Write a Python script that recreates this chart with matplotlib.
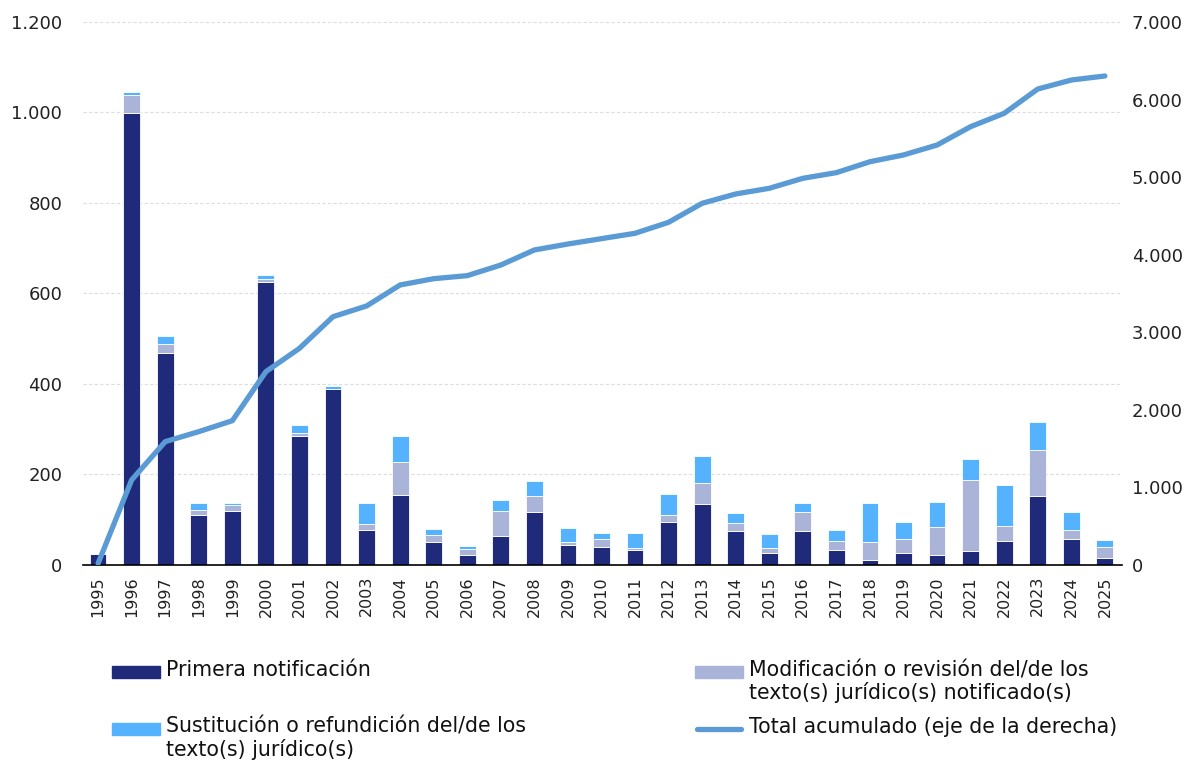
import matplotlib
matplotlib.use("Agg")
import matplotlib.pyplot as plt
from matplotlib.patches import Rectangle
from matplotlib.lines import Line2D
from matplotlib.ticker import FuncFormatter

# Data
years = [str(y) for y in range(1995, 2026)]
primera = [25, 998, 469, 110, 119, 626, 284, 388, 77, 155, 51, 21, 63, 118, 45, 40,
           32, 96, 135, 74, 27, 76, 34, 12, 27, 21, 31, 54, 152, 58, 15]
modificacion = [0, 40, 19, 11, 14, 6, 8, 2, 13, 73, 15, 15, 57, 35, 6, 18,
                6, 15, 46, 19, 11, 40, 19, 38, 30, 63, 157, 33, 102, 19, 25]
sustitucion = [0, 7, 17, 15, 4, 8, 17, 6, 48, 57, 14, 5, 24, 33, 31, 12,
               33, 46, 59, 21, 31, 20, 24, 87, 37, 56, 47, 90, 63, 41, 15]
total_acumulado = [20, 1096, 1590, 1719, 1860, 2492, 2793, 3201, 3339, 3610, 3691, 3730,
                   3867, 4061, 4138, 4207, 4276, 4418, 4663, 4783, 4856, 4985, 5058,
                   5199, 5286, 5414, 5651, 5823, 6136, 6252, 6304]

labels = ["Primera notificación",
          "Modificación o revisión del/de los\ntexto(s) jurídico(s) notificado(s)",
          "Sustitución o refundición del/de los\ntexto(s) jurídico(s)",
          "Total acumulado (eje de la derecha)"]

c_primera = "#1F2A7B"
c_mod = "#A9B4D8"
c_sust = "#55B2FF"
c_line = "#5B9BD5"

plt.rcParams['font.family'] = ['DejaVu Sans']

fig = plt.figure(figsize=(11.94, 7.64), dpi=100)
ax = fig.add_axes([0.0695, 0.2605, 0.8702, 0.7107])

x = list(range(len(years)))
bottom2 = [a + b for a, b in zip(primera, modificacion)]
ax.bar(x, primera, width=0.5, color=c_primera, edgecolor="white", linewidth=0.6, zorder=2)
ax.bar(x, modificacion, width=0.5, bottom=primera, color=c_mod, edgecolor="white", linewidth=0.6, zorder=2)
ax.bar(x, sustitucion, width=0.5, bottom=bottom2, color=c_sust, edgecolor="white", linewidth=0.6, zorder=2)

ax.set_xlim(-0.45, len(years) - 0.49)
ax.set_ylim(0, 1200)
ax.set_yticks(range(0, 1201, 200))
thousands = FuncFormatter(lambda v, p: f"{int(v):,}".replace(",", "."))
ax.yaxis.set_major_formatter(thousands)
ax.set_xticks(x)
ax.set_xticklabels(years, rotation=90, fontsize=11.5, color="#222222")
ax.tick_params(axis="y", labelsize=13, length=0, pad=15, labelcolor="#222222")
ax.tick_params(axis="x", length=0, pad=8)
ax.grid(axis="y", color="#DDDDDD", linestyle=(0, (3, 2)), linewidth=0.8, zorder=0)
for s in ["top", "right", "left"]:
    ax.spines[s].set_visible(False)
ax.spines["bottom"].set_color("black")
ax.spines["bottom"].set_linewidth(1.2)
ax.spines["bottom"].set_zorder(3)

ax2 = ax.twinx()
ax2.plot(x, total_acumulado, color=c_line, linewidth=3.8, solid_capstyle="round", zorder=3)
ax2.set_ylim(0, 7000)
ax2.set_yticks(range(0, 7001, 1000))
ax2.yaxis.set_major_formatter(thousands)
ax2.tick_params(axis="y", labelsize=13, length=0, pad=7, labelcolor="#222222")
for s in ["top", "right", "left", "bottom"]:
    ax2.spines[s].set_visible(False)

# legend drawn by hand so rows line up like the original
W, H = 1194.0, 764.0
def fx(px):
    return px / W
def fy(py):
    return 1 - py / H

legend_items = [
    (112, 672, "patch", c_primera, labels[0]),
    (695, 672, "patch", c_mod, labels[1]),
    (112, 729, "patch", c_sust, labels[2]),
    (695, 729, "line", c_line, labels[3]),
]
for px, py, kind, col, txt in legend_items:
    if kind == "patch":
        fig.add_artist(Rectangle((fx(px), fy(py + 6)), fx(48), 12 / H,
                                 transform=fig.transFigure, color=col))
    else:
        fig.add_artist(Line2D([fx(px + 2), fx(px + 46)], [fy(py), fy(py)],
                              transform=fig.transFigure, color=col, linewidth=3.8,
                              solid_capstyle="round"))
    fig.text(fx(px + 54), fy(py - 12), txt, fontsize=14.8, va="top", ha="left",
             color="#111111", linespacing=1.12)

fig.savefig("out.png", dpi=100)
